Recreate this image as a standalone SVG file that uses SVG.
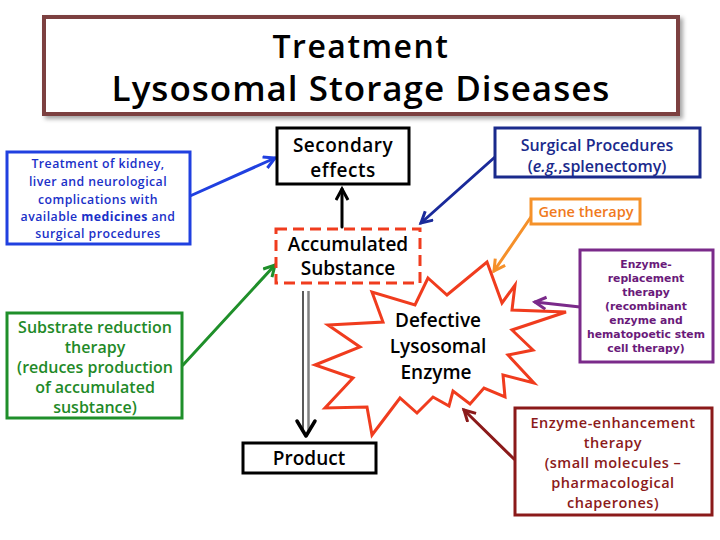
<svg xmlns="http://www.w3.org/2000/svg" width="720" height="540" viewBox="0 0 720 540">
<style>
text{font-family:"Open Sans","DejaVu Sans","Liberation Sans",sans-serif;text-anchor:middle;font-weight:600}
.box{fill:#fff;stroke-width:3}
.big{font-size:19px;fill:#000}
.conn{fill:none;stroke-width:3;stroke-linecap:round}
.dv{font-family:"DejaVu Sans","Liberation Sans",sans-serif;font-weight:bold}
</style>
<defs>
<filter id="sh" x="-5%" y="-5%" width="115%" height="130%"><feDropShadow dx="3" dy="3" stdDeviation="2" flood-color="#000" flood-opacity="0.35"/></filter>
<marker id="aBlk" markerUnits="userSpaceOnUse" markerWidth="16" markerHeight="16" refX="12" refY="7" orient="auto"><path d="M1,1 L12,7 L1,13" fill="none" stroke="#000" stroke-width="3"/></marker>
<marker id="aBlue" markerUnits="userSpaceOnUse" markerWidth="16" markerHeight="16" refX="12" refY="7" orient="auto"><path d="M1,1 L12,7 L1,13" fill="none" stroke="#2040e0" stroke-width="3"/></marker>
<marker id="aNavy" markerUnits="userSpaceOnUse" markerWidth="16" markerHeight="16" refX="12" refY="7" orient="auto"><path d="M1,1 L12,7 L1,13" fill="none" stroke="#1a2a9a" stroke-width="3"/></marker>
<marker id="aOr" markerUnits="userSpaceOnUse" markerWidth="16" markerHeight="16" refX="12" refY="7" orient="auto"><path d="M1,1 L12,7 L1,13" fill="none" stroke="#f5902a" stroke-width="3"/></marker>
<marker id="aPur" markerUnits="userSpaceOnUse" markerWidth="16" markerHeight="16" refX="12" refY="7" orient="auto"><path d="M1,1 L12,7 L1,13" fill="none" stroke="#7a2a8a" stroke-width="3"/></marker>
<marker id="aRed" markerUnits="userSpaceOnUse" markerWidth="16" markerHeight="16" refX="12" refY="7" orient="auto"><path d="M1,1 L12,7 L1,13" fill="none" stroke="#8b1a1a" stroke-width="3"/></marker>
<marker id="aGrn" markerUnits="userSpaceOnUse" markerWidth="16" markerHeight="16" refX="12" refY="7" orient="auto"><path d="M1,1 L12,7 L1,13" fill="none" stroke="#1f8f2a" stroke-width="3"/></marker>
</defs>
<rect width="720" height="540" fill="#fff"/>

<g id="title">
<rect x="44" y="17" width="634" height="97" fill="#fff" stroke="#7b3f3f" stroke-width="4" filter="url(#sh)"/>
<text x="361" y="58" font-size="32" letter-spacing="1.5">Treatment</text>
<text x="361" y="101" font-size="35" letter-spacing="1">Lysosomal Storage Diseases</text>
</g>

<g id="connectors">
<line class="conn" x1="190" y1="196" x2="275" y2="158" stroke="#2040e0" marker-end="url(#aBlue)"/>
<line class="conn" x1="342" y1="227" x2="342" y2="189" stroke="#000" marker-end="url(#aBlk)"/>
<line class="conn" x1="495" y1="157" x2="421" y2="223" stroke="#1a2a9a" marker-end="url(#aNavy)"/>
<line class="conn" x1="533" y1="214" x2="494" y2="271" stroke="#f5902a" marker-end="url(#aOr)"/>
<line class="conn" x1="580" y1="307" x2="535" y2="302" stroke="#7a2a8a" marker-end="url(#aPur)"/>
<line class="conn" x1="514" y1="459" x2="464" y2="410" stroke="#8b1a1a" marker-end="url(#aRed)"/>
<line class="conn" x1="183" y1="365" x2="275" y2="265" stroke="#1f8f2a" marker-end="url(#aGrn)"/>
<g id="doubleArrow">
<line x1="303" y1="291" x2="303" y2="432" stroke="#000" stroke-width="1.3"/>
<line x1="308.5" y1="291" x2="308.5" y2="432" stroke="#808080" stroke-width="2.5"/>
<path d="M297,421 L306,436 L315,421" fill="none" stroke="#000" stroke-width="3.5" stroke-linecap="round" stroke-linejoin="round"/>
</g>
</g>

<g id="secondary">
<rect class="box" x="277" y="128" width="132" height="56" stroke="#000"/>
<text class="big" x="343" y="152" letter-spacing="0.5">Secondary</text>
<text class="big" x="343" y="177" letter-spacing="0.5">effects</text>
</g>

<g id="surgical">
<rect class="box" x="495" y="128" width="205" height="49" stroke="#1a2a8c"/>
<text x="597" y="151" font-size="16" fill="#1a2a8c">Surgical Procedures</text>
<text x="597" y="172" font-size="16" fill="#1a2a8c">(<tspan font-style="italic">e.g.</tspan>,splenectomy)</text>
</g>

<g id="gene">
<rect class="box" x="531" y="199" width="109" height="25" stroke="#f5922a" stroke-width="2.5"/>
<text x="586" y="217" font-size="14.5" fill="#f07a20">Gene therapy</text>
</g>

<g id="accumulated">
<rect class="box" x="276" y="229" width="144" height="54" stroke="#f03c1e" stroke-width="4" stroke-dasharray="11,6"/>
<text class="big" x="348" y="251">Accumulated</text>
<text class="big" x="348" y="275">Substance</text>
</g>

<g id="treatment">
<rect class="box" x="7" y="152" width="183" height="92" stroke="#2040e0"/>
<g font-size="12.3" fill="#1a30c8" letter-spacing="0.45">
<text x="98" y="168" font-weight="bold">Treatment of kidney,</text>
<text x="98" y="186">liver and neurological</text>
<text x="98" y="204" font-weight="bold">complications with</text>
<text x="98" y="221">available <tspan font-weight="bold">medicines</tspan> and</text>
<text x="98" y="238">surgical procedures</text>
</g>
</g>

<g id="substrate">
<rect class="box" x="7" y="313" width="175" height="105" stroke="#1f8f2a"/>
<g font-size="16" fill="#1f8a28">
<text x="95" y="333">Substrate reduction</text>
<text x="95" y="353">therapy</text>
<text x="95" y="373">(reduces production</text>
<text x="95" y="393">of accumulated</text>
<text x="95" y="413">susbtance)</text>
</g>
</g>

<g id="defective">
<polygon points="428,278 447,295 487,262 502,303 515,285 512,310 566,312 512,330 533,350 508,355 534,383 503,375 505,397 484,388 470,404 453,391 449,406 433,397 417,413 400,398 372,435 367,407 325,408 353,378 315,365 360,347 328,325 383,322 372,292 415,305" fill="#fff" stroke="#f03c1e" stroke-width="3" stroke-linejoin="miter"/>
<text class="big" x="438" y="327" font-size="21">Defective</text>
<text class="big" x="438" y="353" font-size="21">Lysosomal</text>
<text class="big" x="436" y="379" font-size="21">Enzyme</text>
</g>

<g id="replacement">
<rect class="box" x="580" y="250" width="133" height="112" stroke="#7a2a8a"/>
<g font-size="10.8" fill="#6a1a7a">
<text class="dv" x="646" y="268">Enzyme-</text>
<text class="dv" x="646" y="282">replacement</text>
<text class="dv" x="646" y="296">therapy</text>
<text class="dv" x="646" y="310">(recombinant</text>
<text class="dv" x="646" y="324">enzyme and</text>
<text class="dv" x="646" y="338">hematopoetic stem</text>
<text class="dv" x="646" y="352">cell therapy)</text>
</g>
</g>

<g id="enhancement">
<rect class="box" x="515" y="408" width="197" height="107" stroke="#8b1a1a"/>
<g font-size="14.5" fill="#8b1a1a" letter-spacing="0.5">
<text x="613" y="428">Enzyme-enhancement</text>
<text x="613" y="448">therapy</text>
<text x="613" y="468">(small molecules –</text>
<text x="613" y="488">pharmacological</text>
<text x="613" y="508">chaperones)</text>
</g>
</g>

<g id="product">
<rect class="box" x="243" y="443" width="133" height="30" stroke="#000"/>
<text class="big" x="309" y="465" font-size="18">Product</text>
</g>
</svg>
